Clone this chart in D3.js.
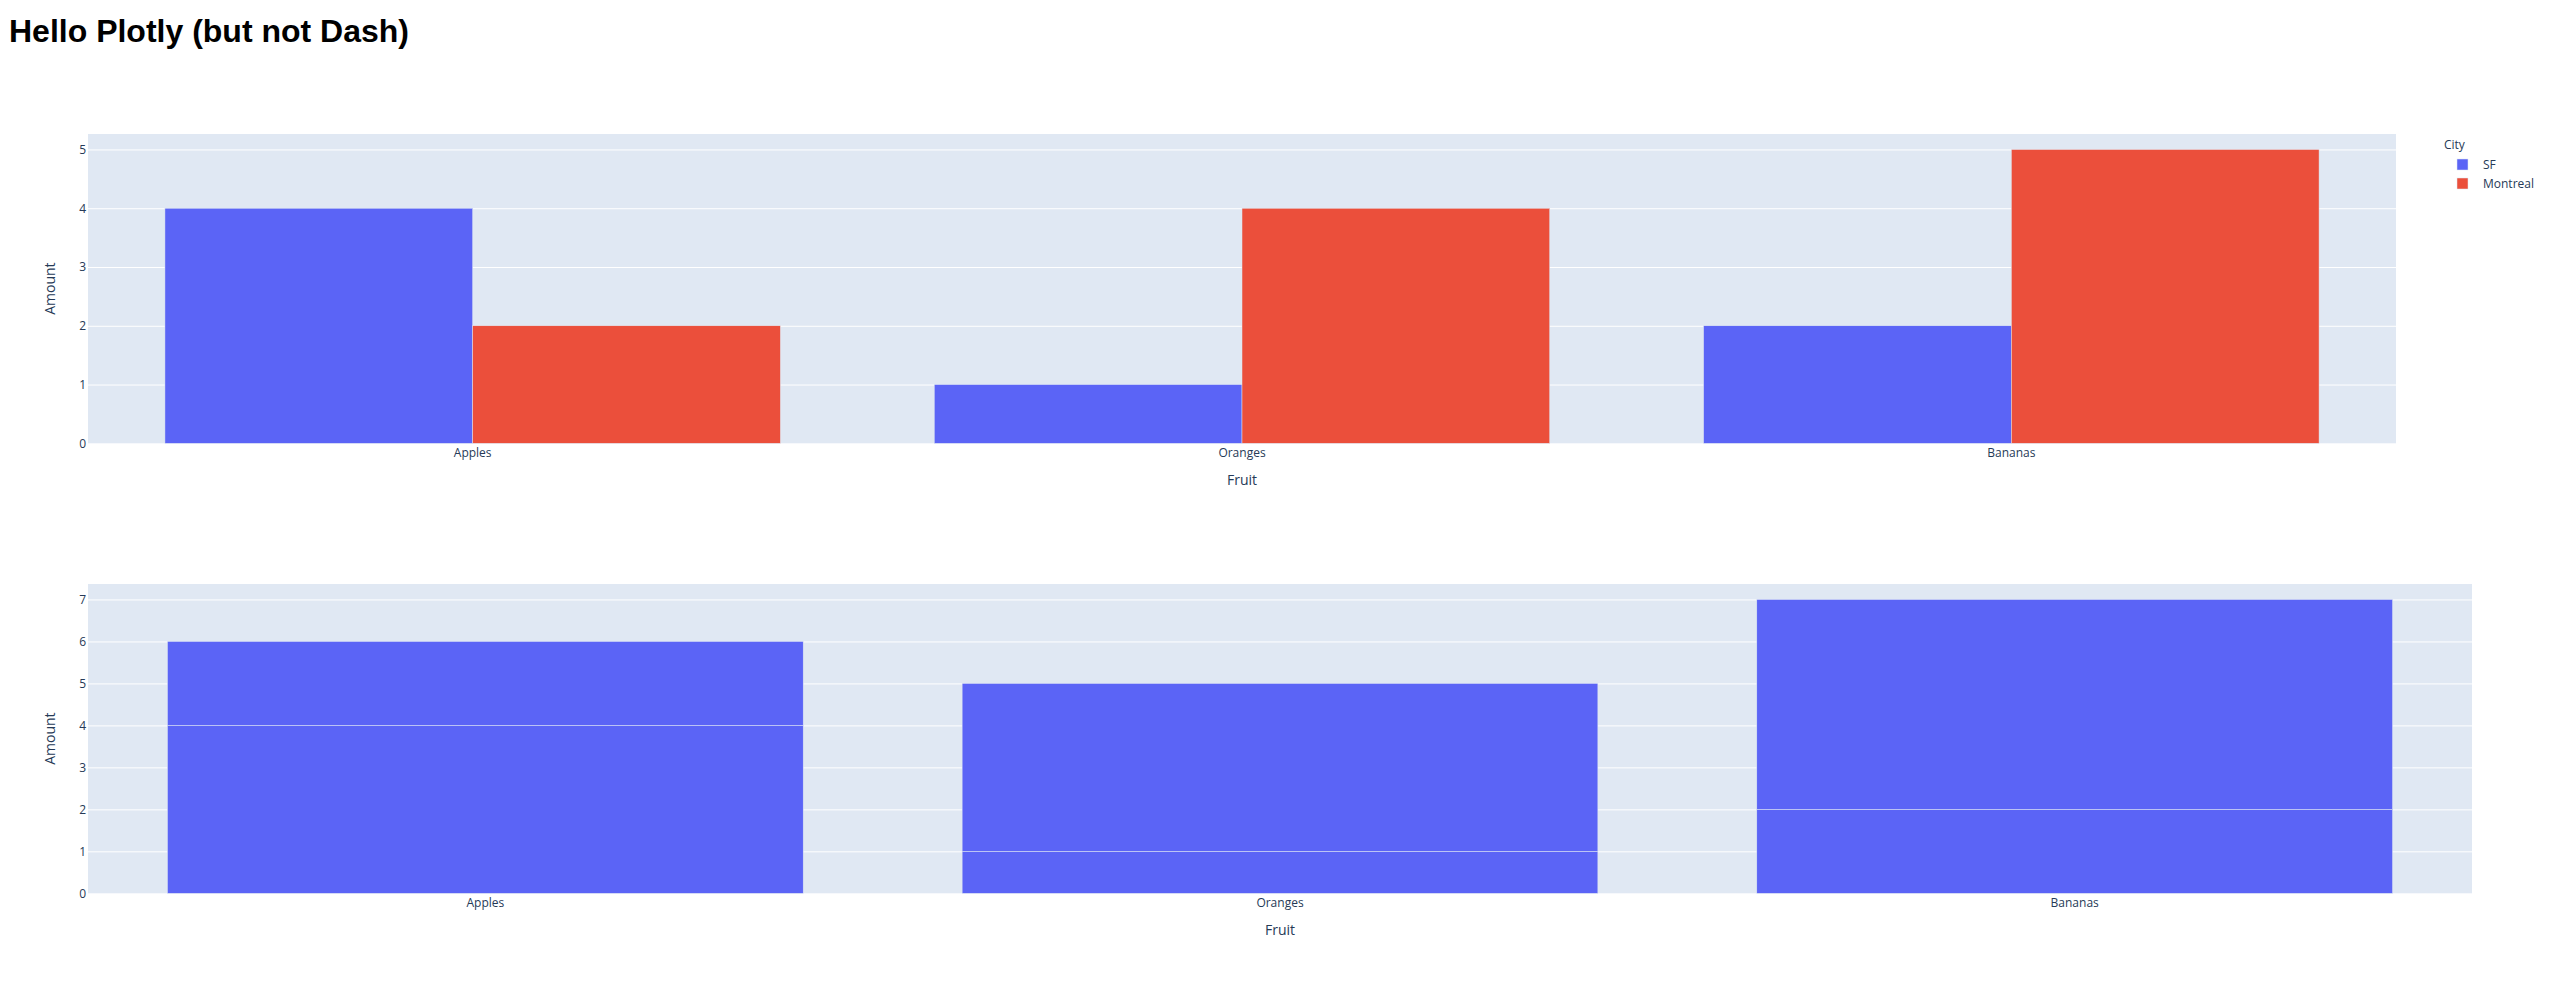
<!DOCTYPE html>
<html>
<head>
<meta charset="utf-8">
<script src="https://cdn.jsdelivr.net/npm/d3@7"></script>
<style>
  html, body { margin: 0; padding: 0; background: #fff; }
  svg { display: block; }
</style>
</head>
<body>
<svg id="chart" width="2559" height="1008"></svg>
<script>
// ---- data ----
const fruits = ["Apples", "Oranges", "Bananas"];
const cities = ["SF", "Montreal"];
const sfAmounts = [4, 1, 2];
const montrealAmounts = [2, 4, 5];
const topYTicks = [0, 1, 2, 3, 4, 5];
const bottomYTicks = [0, 1, 2, 3, 4, 5, 6, 7];
const titleText = "Hello Plotly (but not Dash)";
const xTitle = "Fruit";
const yTitle = "Amount";
const legendTitle = "City";

// ---- style ----
const colors = { SF: "#5b64f6", Montreal: "#eb4f3b" };
const plotBg = "#e0e8f3";
const textColor = "#263a57";
const font = "'Open Sans', verdana, arial, sans-serif";

const rows = fruits.map((f, i) => ({ fruit: f, SF: sfAmounts[i], Montreal: montrealAmounts[i] }));

const svg = d3.select("#chart");

svg.append("text")
  .attr("x", 9).attr("y", 42)
  .attr("font-family", "'Liberation Sans', Arial, sans-serif")
  .attr("font-weight", "bold")
  .attr("font-size", 32)
  .attr("fill", "#000")
  .text(titleText);

function drawFrame(g, x, y, w, h, ticks) {
  g.append("rect").attr("x", 0).attr("y", 0).attr("width", w).attr("height", h).attr("fill", plotBg);
  const yAxis = d3.axisLeft(y).tickValues(ticks).tickSize(-w).tickPadding(2).tickFormat(d3.format("d"));
  const ga = g.append("g").call(yAxis);
  ga.select(".domain").remove();
  ga.selectAll(".tick line").attr("stroke", "#fff").attr("stroke-width", 1)
    .filter(d => d === 0).remove();
  ga.selectAll(".tick text").attr("font-family", font).attr("font-size", 12).attr("fill", textColor);

  const xAxis = d3.axisBottom(x).tickSize(0).tickPadding(0);
  const gx = g.append("g").attr("transform", `translate(0,${h})`).call(xAxis);
  gx.select(".domain").remove();
  gx.selectAll(".tick text").attr("font-family", font).attr("font-size", 12).attr("fill", textColor)
    .attr("dy", null).attr("y", 14);
}

function axisTitles(g, w, h, xTitleY) {
  g.append("text").attr("x", w / 2).attr("y", xTitleY).attr("text-anchor", "middle")
    .attr("font-family", font).attr("font-size", 14).attr("fill", textColor).text(xTitle);
  g.append("text").attr("transform", `translate(${55 - 88},${h / 2}) rotate(-90)`)
    .attr("text-anchor", "middle")
    .attr("font-family", font).attr("font-size", 14).attr("fill", textColor).text(yTitle);
}

// ---- top chart: grouped ----
{
  const L = 88, T = 134, W = 2396 - 88, H = 443.3 - 134;
  const g = svg.append("g").attr("transform", `translate(${L},${T})`);
  const x = d3.scaleBand().domain(fruits).range([0, W]).paddingInner(0.2).paddingOuter(0.1);
  const xs = d3.scaleBand().domain(cities).range([0, x.bandwidth()]).padding(0);
  const maxV = d3.max(rows, r => Math.max(r.SF, r.Montreal));
  const y = d3.scaleLinear().domain([0, maxV / 0.95]).range([H, 0]);
  drawFrame(g, x, y, W, H, topYTicks);
  cities.forEach(c => {
    g.append("g").selectAll("rect").data(rows).join("rect")
      .attr("x", d => x(d.fruit) + xs(c))
      .attr("y", d => y(d[c]))
      .attr("width", xs.bandwidth())
      .attr("height", d => y(0) - y(d[c]))
      .attr("fill", colors[c])
      .attr("stroke", plotBg).attr("stroke-width", 0.5);
  });
  axisTitles(g, W, H, 485 - T);

  // legend
  const lg = svg.append("g").attr("transform", "translate(2444,0)");
  lg.append("text").attr("x", 0).attr("y", 149).attr("font-family", font).attr("font-size", 12)
    .attr("fill", textColor).text(legendTitle);
  cities.forEach((c, i) => {
    const cy = 164.5 + i * 19;
    lg.append("rect").attr("x", 13).attr("y", cy - 5.5).attr("width", 11).attr("height", 11)
      .attr("fill", colors[c]).attr("stroke", plotBg).attr("stroke-width", 0.5);
    lg.append("text").attr("x", 39).attr("y", cy + 4).attr("font-family", font).attr("font-size", 12)
      .attr("fill", textColor).text(c);
  });
}

// ---- bottom chart: stacked, single colour ----
{
  const L = 88, T = 584, W = 2472 - 88, H = 893.3 - 584;
  const g = svg.append("g").attr("transform", `translate(${L},${T})`);
  const x = d3.scaleBand().domain(fruits).range([0, W]).paddingInner(0.2).paddingOuter(0.1);
  const stack = d3.stack().keys(cities)(rows);
  const maxV = d3.max(stack[stack.length - 1], d => d[1]);
  const y = d3.scaleLinear().domain([0, maxV / 0.95]).range([H, 0]);
  drawFrame(g, x, y, W, H, bottomYTicks);
  stack.forEach(layer => {
    g.append("g").selectAll("rect").data(layer).join("rect")
      .attr("x", d => x(d.data.fruit))
      .attr("y", d => y(d[1]))
      .attr("width", x.bandwidth())
      .attr("height", d => y(d[0]) - y(d[1]))
      .attr("fill", colors.SF)
      .attr("stroke", plotBg).attr("stroke-width", 0.5);
  });
  axisTitles(g, W, H, 935 - T);
}
</script>
</body>
</html>
